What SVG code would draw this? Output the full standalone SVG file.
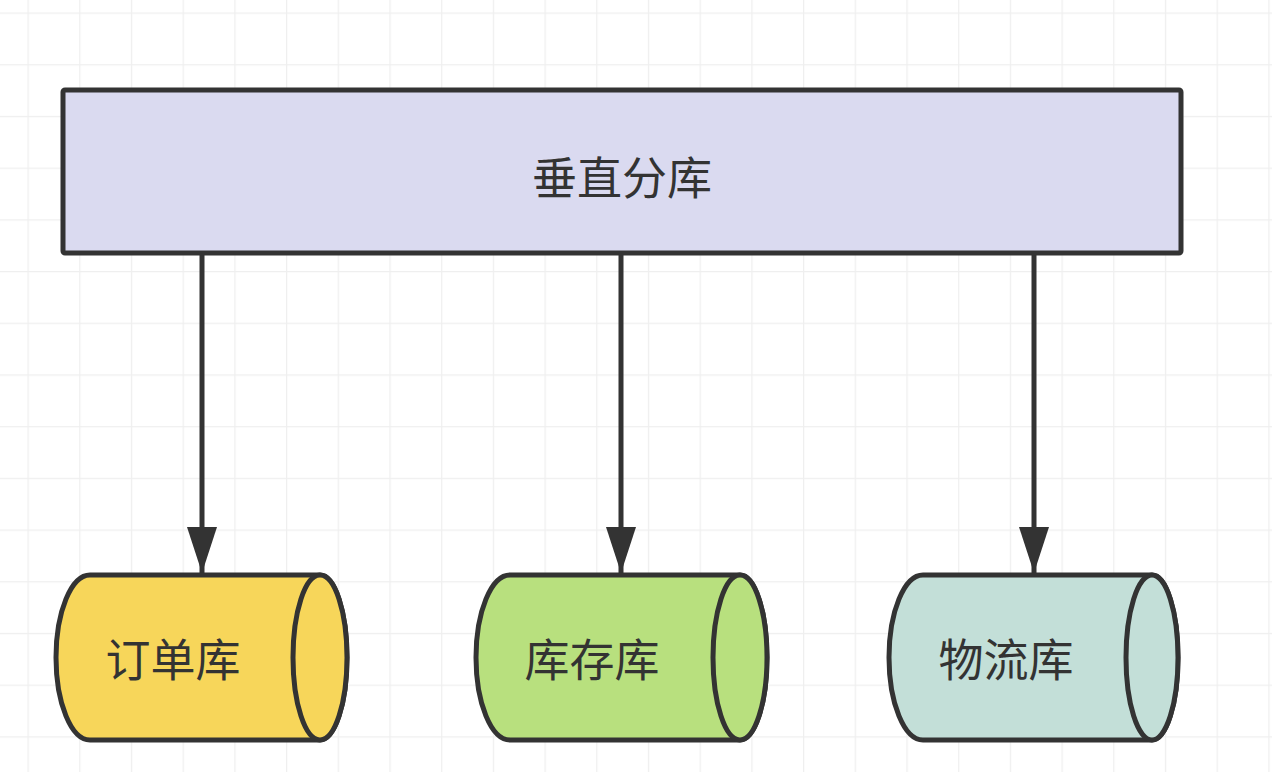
<svg xmlns="http://www.w3.org/2000/svg" width="1272" height="772" viewBox="0 0 1272 772">
<defs>
<pattern id="grid" patternUnits="userSpaceOnUse" x="27.5" y="12.5" width="51.7" height="51.7">
<path d="M0 0H51.7M0 0V51.7" fill="none" stroke="#efefef" stroke-width="2.5"/>
</pattern>
<marker id="arr" markerUnits="userSpaceOnUse" markerWidth="46" markerHeight="30" refX="46" refY="15" orient="auto" viewBox="0 0 46 30">
<path d="M0 0L46 15L0 30Z" fill="#333"/>
</marker>
<style>
.box{fill:#dadaf0;stroke:#333;stroke-width:5}
.cyl{stroke:#333;stroke-width:5}
.lbl{font-family:"Noto Sans CJK SC","Noto Sans",sans-serif;font-size:45px;fill:#333;text-anchor:middle;dominant-baseline:central}
.edge{stroke:#333;stroke-width:5;fill:none}
</style>
</defs>
<rect width="1272" height="772" fill="#fff"/>
<rect width="1272" height="772" fill="url(#grid)"/>
<g id="edges">
<path class="edge" d="M202 253V573" marker-end="url(#arr)"/>
<path class="edge" d="M621 253V573" marker-end="url(#arr)"/>
<path class="edge" d="M1034 253V573" marker-end="url(#arr)"/>
</g>
<g id="vertical">
<rect class="box" x="63" y="90" width="1118" height="163" rx="2"/>
<text class="lbl" x="622" y="175" font-size="47">垂直分库</text>
</g>
<g id="order">
<path class="cyl" fill="#f7d65a" d="M90 575H320A27 82.5 0 0 1 320 740H90A34 82.5 0 0 1 90 575Z"/>
<ellipse class="cyl" fill="#f7d65a" cx="320" cy="657.5" rx="27" ry="82.5"/>
<text class="lbl" x="173" y="657">订单库</text>
</g>
<g id="stock">
<path class="cyl" fill="#b8e07e" d="M510 575H740A27 82.5 0 0 1 740 740H510A34 82.5 0 0 1 510 575Z"/>
<ellipse class="cyl" fill="#b8e07e" cx="740" cy="657.5" rx="27" ry="82.5"/>
<text class="lbl" x="592" y="657">库存库</text>
</g>
<g id="logistics">
<path class="cyl" fill="#c3dfd8" d="M923 575H1152A26 82.5 0 0 1 1152 740H923A34 82.5 0 0 1 923 575Z"/>
<ellipse class="cyl" fill="#c3dfd8" cx="1152" cy="657.5" rx="26" ry="82.5"/>
<text class="lbl" x="1006" y="657">物流库</text>
</g>
</svg>
